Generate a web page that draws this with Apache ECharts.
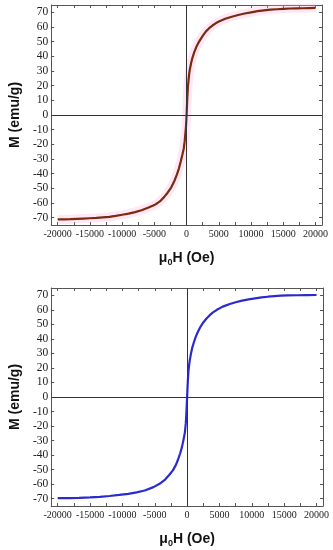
<!DOCTYPE html>
<html><head><meta charset="utf-8">
<script src="https://cdn.jsdelivr.net/npm/echarts@6/dist/echarts.min.js"></script>
<style>html,body{margin:0;padding:0;background:#fff}#c{width:333px;height:550px}</style>
</head><body><div id="c"></div>
<script>
// Sample 1 (top panel): applied field (Oe) and magnetization (emu/g)
var H1 = [-20000, -19000, -18000, -17000, -16000, -15000, -14000, -13000, -12000, -11000, -10000, -9000, -8000, -7000, -6000, -5000, -4500, -4000, -3500, -2950, -2400, -1900, -1500, -1200, -900, -650, -450, -300, -200, -100, 0,
          100, 200, 300, 400, 500, 700, 900, 1200, 1500, 1800, 2100, 2500, 3000, 3500, 4000, 4500, 5000, 6000, 7000, 8000, 9000, 10000, 11000, 12000, 13000, 14000, 15000, 16000, 17000, 18000, 19000, 20000];
var M1 = [-71.2, -71.1, -71, -70.8, -70.6, -70.4, -70.2, -69.8, -69.4, -68.8, -68, -67.2, -66.2, -64.9, -63.3, -61.4, -60, -58.3, -56, -53, -49.5, -45, -40.5, -36.5, -31.5, -27, -23, -18, -13, -8, 0,
          11, 19, 24, 28, 31, 35.5, 39, 43, 46.3, 49, 51.2, 54, 57, 59.2, 61, 62.5, 63.7, 65.6, 67, 68.2, 69.2, 70, 70.8, 71.3, 71.8, 72.1, 72.4, 72.6, 72.7, 72.8, 72.9, 73];
// Sample 2 (bottom panel)
var H2 = [-20000, -18300, -16700, -15000, -13500, -12000, -10500, -9090, -7800, -6550, -5200, -4260, -3400, -2740, -2200, -1730, -1400, -1070, -800, -560, -350, -200, -100, 0,
          100, 200, 300, 400, 600, 800, 1000, 1300, 1600, 2000, 2500, 3000, 3500, 4000, 4600, 5500, 6600, 7500, 8500, 9500, 10500, 11500, 12500, 13500, 14500, 15500, 17000, 18500, 20000];
var M2 = [-69.6, -69.6, -69.4, -69.1, -68.7, -68.1, -67.4, -66.6, -65.6, -64.3, -62, -59.7, -56.8, -53.5, -50.5, -46.7, -43, -38.7, -34.5, -29.5, -24.5, -18, -10, 0,
          10, 17.5, 21.5, 25, 30, 34, 37, 41, 44.2, 47.8, 51.3, 54, 56.3, 58.2, 60, 62.2, 64, 65.2, 66.3, 67.2, 67.9, 68.5, 69, 69.4, 69.7, 69.9, 70, 70.1, 70.2];
// Tick labels
var xLabels = [-20000, -15000, -10000, -5000, 0, 5000, 10000, 15000, 20000];
var xTicks = [-20000, -17500, -15000, -12500, -10000, -7500, -5000, -2500, 0, 2500, 5000, 7500, 10000, 12500, 15000, 17500, 20000];
var yLabels = [-70, -60, -50, -40, -30, -20, -10, 0, 10, 20, 30, 40, 50, 60, 70];

function pairs(h, m) { return h.map(function (v, i) { return [v, m[i]]; }); }

var frame = '#555';
var serif = '"Liberation Serif","DejaVu Serif",serif';
var sans = '"Liberation Sans",Arial,sans-serif';

function xAx(grid, pos, main) {
  return {
    type: 'value', gridIndex: grid, position: pos, min: -21000, max: 21000,
    axisLine: { show: true, onZero: false, lineStyle: { color: frame, width: 1 } },
    axisTick: { show: true, inside: true, length: 3, customValues: xTicks, lineStyle: { color: frame } },
    axisLabel: { show: main, customValues: xLabels, margin: 4, fontFamily: serif, fontSize: 10, color: '#222',
      formatter: function (v) { return String(v); } },
    splitLine: { show: false },
    name: main ? '{a|μ}{s|0}{a|H (Oe)}' : '', nameLocation: 'middle', nameGap: 25,
    nameTextStyle: { rich: { a: { fontFamily: sans, fontWeight: 'bold', fontSize: 14, color: '#111' }, s: { fontFamily: sans, fontWeight: 'bold', fontSize: 9, color: '#111', verticalAlign: 'bottom', padding: [8, 0, 0, 0] } } }
  };
}
function yAx(grid, pos, main) {
  return {
    type: 'value', gridIndex: grid, position: pos, min: -75, max: 75,
    axisLine: { show: true, onZero: false, lineStyle: { color: frame, width: 1 } },
    axisTick: { show: true, inside: true, length: 3, customValues: yLabels, lineStyle: { color: frame } },
    axisLabel: { show: main, customValues: yLabels, margin: 3, fontFamily: serif, fontSize: 11.5, color: '#222' },
    splitLine: { show: false },
    name: main ? 'M (emu/g)' : '', nameLocation: 'middle', nameGap: 29,
    nameTextStyle: { fontFamily: sans, fontWeight: 'bold', fontSize: 14, color: '#111' }
  };
}
var zeroLines = {
  silent: true, symbol: 'none', label: { show: false },
  lineStyle: { color: '#333', width: 1, type: 'solid' },
  data: [{ xAxis: 0 }, { yAxis: 0 }]
};

var chart = echarts.init(document.getElementById('c'), null, { renderer: 'canvas' });
chart.setOption({
  animation: false,
  grid: [
    { left: 47, right: 11, top: 5, height: 220 },
    { left: 44, right: 10, top: 288, height: 218 }
  ],
  xAxis: [xAx(0, 'bottom', true), xAx(0, 'top', false), xAx(1, 'bottom', true), xAx(1, 'top', false)],
  yAxis: [yAx(0, 'left', true), yAx(0, 'right', false), yAx(1, 'left', true), yAx(1, 'right', false)],
  series: [
    { type: 'line', xAxisIndex: 0, yAxisIndex: 0, data: pairs(H1, M1), showSymbol: false,
      lineStyle: { color: 'rgba(255,175,220,0.3)', width: 9 }, z: 1, markLine: zeroLines },
    { type: 'line', xAxisIndex: 0, yAxisIndex: 0, data: pairs(H1, M1), showSymbol: false,
      lineStyle: { color: '#7a2a12', width: 2.2 }, z: 3 },
    { type: 'line', xAxisIndex: 2, yAxisIndex: 2, data: pairs(H2, M2), showSymbol: false,
      lineStyle: { color: '#2a2ad0', width: 2.2 }, z: 3, markLine: zeroLines }
  ]
});
</script></body></html>
